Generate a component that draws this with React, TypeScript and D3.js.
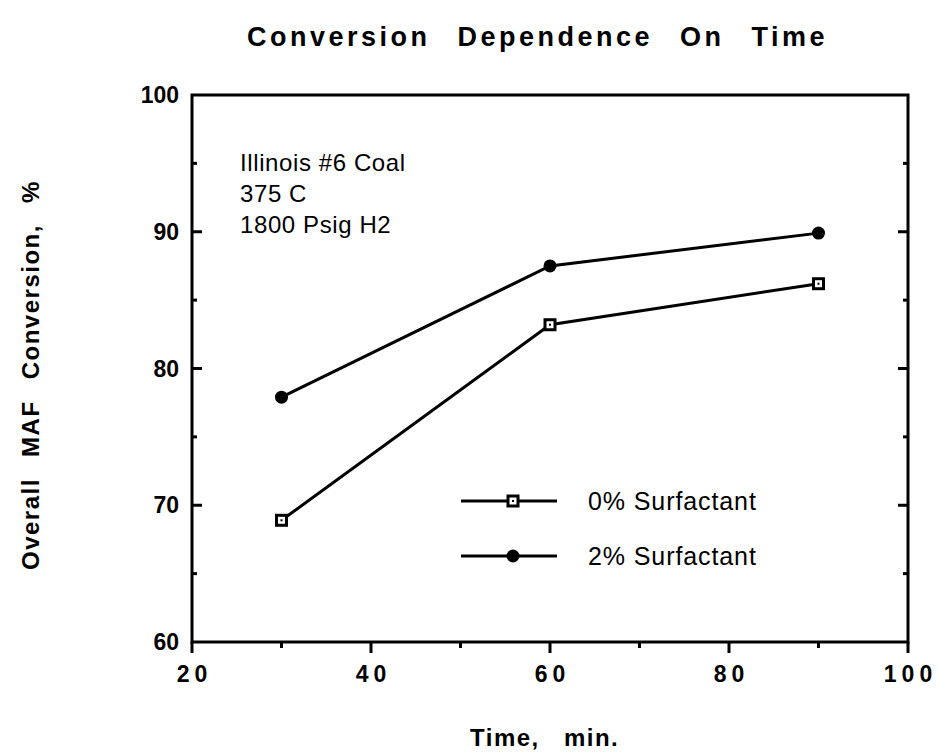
import React from "react";
import * as d3 from "d3";

const times = [30, 60, 90];
const conv0 = [68.9, 83.2, 86.2];
const conv2 = [77.9, 87.5, 89.9];
const xTicks = [20, 40, 60, 80, 100];
const xMinor = [30, 50, 70, 90];
const yTicks = [60, 70, 80, 90, 100];
const yMinor = [65, 75, 85, 95];
const noteLines = ["Illinois #6 Coal", "375 C", "1800 Psig H2"];
const legendLabels = ["0% Surfactant", "2% Surfactant"];

const W = 939;
const H = 752;
const left = 192;
const right = 908;
const top = 95;
const bottom = 642;

const x = d3.scaleLinear().domain([20, 100]).range([left, right]);
const y = d3.scaleLinear().domain([60, 100]).range([bottom, top]);

const line = d3
  .line<[number, number]>()
  .x((d) => x(d[0]))
  .y((d) => y(d[1]));

const font = "Arial, 'Liberation Sans', Helvetica, sans-serif";
const xLabelSpacing = 5;

function SquareMark({ cx, cy }: { cx: number; cy: number }) {
  return (
    <g>
      <rect x={cx - 6.5} y={cy - 6.5} width={13} height={13} fill="#000" />
      <rect x={cx - 3.5} y={cy - 3.5} width={7} height={7} fill="#fff" />
      <rect x={cx - 1} y={cy - 1} width={2} height={2} fill="#000" />
    </g>
  );
}

function DotMark({ cx, cy }: { cx: number; cy: number }) {
  return <circle cx={cx} cy={cy} r={6.5} fill="#000" />;
}

export default function App() {
  const s0 = times.map((t, i) => [t, conv0[i]] as [number, number]);
  const s2 = times.map((t, i) => [t, conv2[i]] as [number, number]);
  return (
    <svg
      width={W}
      height={H}
      style={{ position: "absolute", left: 0, top: 0, background: "#fff" }}
      fontFamily={font}
    >
      <rect width={W} height={H} fill="#fff" />
      <text
        x={247}
        y={46}
        fontSize={27}
        fontWeight="bold"
        letterSpacing={3.5}
        wordSpacing={16}
      >
        Conversion Dependence On Time
      </text>

      {/* frame */}
      <rect
        x={left}
        y={top}
        width={right - left}
        height={bottom - top}
        fill="none"
        stroke="#000"
        strokeWidth={3}
      />

      {/* x ticks, outward */}
      {xTicks.map((t) => (
        <line key={"xt" + t} x1={x(t)} x2={x(t)} y1={bottom} y2={bottom + 11} stroke="#000" strokeWidth={3} />
      ))}
      {xMinor.map((t) => (
        <line key={"xm" + t} x1={x(t)} x2={x(t)} y1={bottom} y2={bottom + 6} stroke="#000" strokeWidth={3} />
      ))}
      {xTicks.map((t) => (
        <text
          key={"xl" + t}
          x={x(t) + xLabelSpacing / 2}
          y={682}
          textAnchor="middle"
          fontSize={23}
          fontWeight="bold"
          letterSpacing={xLabelSpacing}
        >
          {t}
        </text>
      ))}

      {/* y ticks, inward on both sides */}
      {yTicks.slice(1, -1).map((t) => (
        <g key={"yt" + t}>
          <line x1={left} x2={left + 10} y1={y(t)} y2={y(t)} stroke="#000" strokeWidth={3} />
          <line x1={right} x2={right - 10} y1={y(t)} y2={y(t)} stroke="#000" strokeWidth={3} />
        </g>
      ))}
      {yMinor.map((t) => (
        <g key={"ym" + t}>
          <line x1={left} x2={left + 5} y1={y(t)} y2={y(t)} stroke="#000" strokeWidth={3} />
          <line x1={right} x2={right - 5} y1={y(t)} y2={y(t)} stroke="#000" strokeWidth={3} />
        </g>
      ))}
      {yTicks.map((t) => (
        <text
          key={"yl" + t}
          x={179}
          y={y(t) + 8}
          textAnchor="end"
          fontSize={23}
          fontWeight="bold"
        >
          {t}
        </text>
      ))}

      {/* axis titles */}
      <text
        x={470}
        y={746}
        fontSize={24}
        fontWeight="bold"
        letterSpacing={1.5}
        wordSpacing={16}
      >
        Time, min.
      </text>
      <text
        transform={`translate(39,570) rotate(-90)`}
        fontSize={24}
        fontWeight="bold"
        letterSpacing={1.5}
        wordSpacing={13}
      >
        Overall MAF Conversion, %
      </text>

      {/* annotation */}
      {noteLines.map((l, i) => (
        <text key={l} x={240} y={171 + i * 31} fontSize={24} letterSpacing={0.6}>
          {l}
        </text>
      ))}

      {/* series */}
      <path d={line(s0) || ""} fill="none" stroke="#000" strokeWidth={3} />
      <path d={line(s2) || ""} fill="none" stroke="#000" strokeWidth={3} />
      {s0.map((d) => (
        <SquareMark key={"a" + d[0]} cx={x(d[0])} cy={y(d[1])} />
      ))}
      {s2.map((d) => (
        <DotMark key={"b" + d[0]} cx={x(d[0])} cy={y(d[1])} />
      ))}

      {/* legend */}
      <line x1={461} x2={557} y1={501} y2={501} stroke="#000" strokeWidth={3} />
      <SquareMark cx={513} cy={501} />
      <text x={588} y={510} fontSize={25} letterSpacing={0.9}>
        {legendLabels[0]}
      </text>
      <line x1={461} x2={557} y1={556} y2={556} stroke="#000" strokeWidth={3} />
      <DotMark cx={513} cy={556} />
      <text x={588} y={565} fontSize={25} letterSpacing={0.9}>
        {legendLabels[1]}
      </text>
    </svg>
  );
}
